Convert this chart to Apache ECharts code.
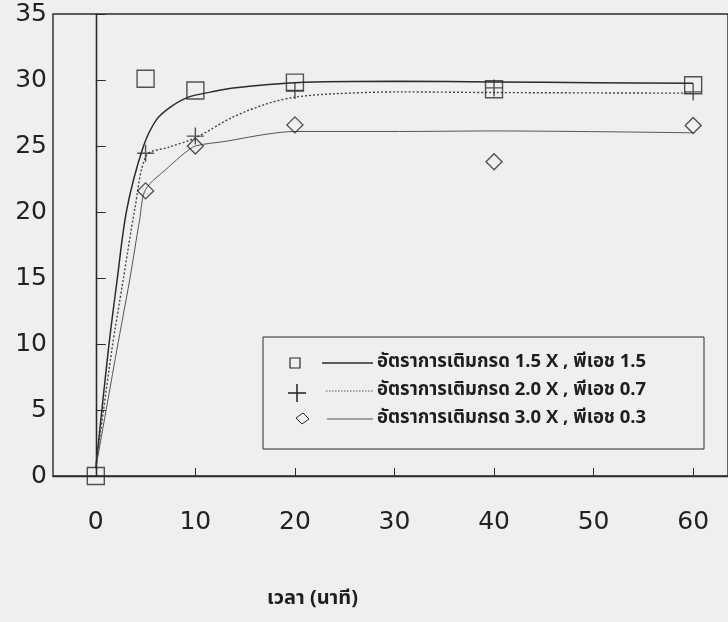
<!DOCTYPE html>
<html>
<head>
<meta charset="utf-8">
<script src="https://cdn.jsdelivr.net/npm/echarts@6/dist/echarts.min.js"></script>
<style>
  html, body { margin: 0; padding: 0; background: #efefed; }
  #chart { width: 728px; height: 622px; }
</style>
</head>
<body>
<div id="chart"></div>
<script>
// Time axis labels (minutes) and the x tick values
const timeLabels = [0, 10, 20, 30, 40, 50, 60];
const timeTicks = [10, 20, 30, 40, 50, 60];

// Series names
const seriesNames = [
  'อัตราการเติมกรด 1.5 X , พีเอช 1.5',
  'อัตราการเติมกรด 2.0 X , พีเอช 0.7',
  'อัตราการเติมกรด 3.0 X , พีเอช 0.3'
];
const axisTitle = 'เวลา (นาที)';

// Measured points [time, value]
const measured15 = [[0, 0], [5, 30.1], [10, 29.2], [20, 29.8], [40, 29.3], [60, 29.6]];
const measured20 = [[5, 24.45], [10, 25.75], [20, 29.2], [40, 29.4], [60, 29.1]];
const measured30 = [[5, 21.6], [10, 25.0], [20, 26.6], [40, 23.8], [60, 26.55]];

// Fitted curves [time, value]
const fit15 = [[0, 0.6], [1.25, 9.5], [2.14, 14.85], [3.1, 20.15], [4.75, 24.9],
  [6.1, 27.0], [7.6, 28.0], [9.3, 28.7], [11.6, 29.1], [13.8, 29.4], [20, 29.8],
  [30.5, 29.9], [40, 29.85], [50, 29.8], [60, 29.75]];
const fit20 = [[0, 0.6], [1.6, 9.5], [2.75, 14.85], [3.9, 20.15], [5.1, 24.3],
  [7.3, 24.9], [9.95, 25.6], [13.8, 27.2], [17.2, 28.2], [20, 28.7], [23.8, 28.95],
  [30.5, 29.1], [40, 29.05], [60, 29.0]];
const fit30 = [[0, 0.6], [2.1, 9.5], [3.4, 14.85], [4.4, 19.4], [5.0, 21.7], [7.3, 23.4],
  [8.9, 24.45], [10, 25.0], [13, 25.35], [17.2, 25.9], [20, 26.1], [30.5, 26.1],
  [40, 26.14], [60, 26.0]];

const ink = '#2b2b2b';
const numFont = 'DejaVu Sans';
const thaiFont = '"Noto Sans Thai", "Noto Sans Thai UI", Loma, Garuda, Norasi, "Noto Sans", sans-serif';

const plusPath = 'path://M0,8L16,8M8,0L8,16';
const hollow = { color: 'rgba(0,0,0,0)', borderColor: ink, borderWidth: 1.4 };

const chart = echarts.init(document.getElementById('chart'), null, { renderer: 'canvas' });

// Legend box inside the plot: marker, line sample, label
const legendX = 263, legendY = 337;
const rowY = [363, 393, 419];
const legendGraphics = [
  { type: 'rect', shape: { x: legendX, y: legendY, width: 441, height: 112 },
    style: { fill: 'none', stroke: ink, lineWidth: 1 } },
  { type: 'rect', shape: { x: 290, y: rowY[0] - 5, width: 10, height: 10 },
    style: { fill: 'none', stroke: ink, lineWidth: 1.2 } },
  { type: 'polyline', shape: { points: [[288, rowY[1]], [306, rowY[1]]] }, style: { stroke: ink, lineWidth: 1.6 } },
  { type: 'polyline', shape: { points: [[297, rowY[1] - 9], [297, rowY[1] + 9]] }, style: { stroke: ink, lineWidth: 1.6 } },
  { type: 'polygon', shape: { points: [[296, rowY[2] - 1], [303, rowY[2] - 6], [309, rowY[2]], [302, rowY[2] + 5]] },
    style: { fill: 'none', stroke: ink, lineWidth: 1 } },
  { type: 'polyline', shape: { points: [[322, rowY[0]], [373, rowY[0]]] }, style: { stroke: ink, lineWidth: 1.4 } },
  { type: 'polyline', shape: { points: [[326, rowY[1] - 2], [373, rowY[1] - 2]] }, style: { stroke: '#555', lineWidth: 1, lineDash: [1.5, 1.5] } },
  { type: 'polyline', shape: { points: [[327, rowY[2]], [373, rowY[2]]] }, style: { stroke: '#555', lineWidth: 1 } }
];
seriesNames.forEach((name, i) => {
  legendGraphics.push({
    type: 'text', x: 377, y: rowY[i] + (i === 1 ? -2 : 0),
    style: { text: name, fill: '#1e1e1e', font: 'bold 18.5px ' + thaiFont, verticalAlign: 'middle', align: 'left' }
  });
});

chart.setOption({
  backgroundColor: '#efefed',
  animation: false,
  title: {
    text: axisTitle, left: 262, top: 585,
    textStyle: { fontFamily: thaiFont, fontSize: 20, fontWeight: 'bold', color: '#1e1e1e' }
  },
  grid: {
    left: 53, right: -2, top: 14, bottom: 146,
    show: true, borderColor: ink, borderWidth: 1.4, backgroundColor: 'transparent'
  },
  xAxis: {
    type: 'value', min: -4.3, max: 63.5,
    axisLine: { show: true, lineStyle: { color: ink, width: 1.4 } },
    axisTick: { show: true, inside: true, length: 8, customValues: timeTicks, lineStyle: { color: ink, width: 1 } },
    axisLabel: { customValues: timeLabels, margin: 34, fontFamily: numFont, fontSize: 25, color: '#222' },
    splitLine: { show: false }
  },
  yAxis: {
    type: 'value', min: 0, max: 35, interval: 5,
    axisLine: { show: true, lineStyle: { color: ink, width: 1.4 } },
    axisTick: { show: true, inside: true, length: 10, lineStyle: { color: ink, width: 1 } },
    axisLabel: { margin: 6, fontFamily: numFont, fontSize: 25, color: '#222' },
    splitLine: { show: false }
  },
  graphic: legendGraphics,
  series: [
    {
      name: seriesNames[0] + ' fit', type: 'line', data: fit15, smooth: 0.3, symbol: 'none',
      lineStyle: { color: ink, width: 1.5 }, z: 2,
      markLine: {
        silent: true, symbol: 'none', label: { show: false },
        lineStyle: { color: ink, width: 1.2, type: 'solid' },
        data: [{ xAxis: 0 }]
      }
    },
    {
      name: seriesNames[1] + ' fit', type: 'line', data: fit20, smooth: 0.3, symbol: 'none',
      lineStyle: { color: '#444', width: 1.4, type: [2, 2] }, z: 2
    },
    {
      name: seriesNames[2] + ' fit', type: 'line', data: fit30, smooth: 0.3, symbol: 'none',
      lineStyle: { color: '#555', width: 1 }, z: 2
    },
    {
      name: seriesNames[0], type: 'scatter', data: measured15, symbol: 'rect', symbolSize: 17,
      itemStyle: hollow, z: 3
    },
    {
      name: seriesNames[1], type: 'scatter', data: measured20, symbol: plusPath, symbolSize: 17,
      itemStyle: hollow, z: 3
    },
    {
      name: seriesNames[2], type: 'scatter', data: measured30, symbol: 'diamond', symbolSize: [16, 16],
      itemStyle: hollow, z: 3
    }
  ]
});
</script>
</body>
</html>
